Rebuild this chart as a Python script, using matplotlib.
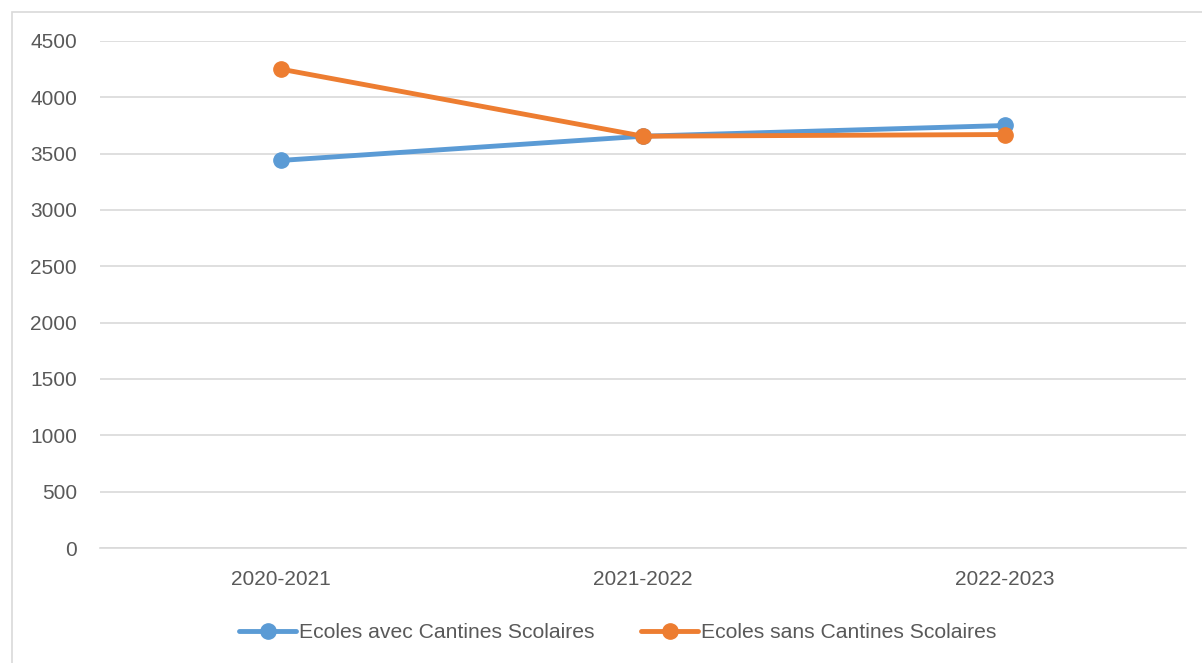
import matplotlib.pyplot as plt
from matplotlib.patches import Rectangle

years = ['2020-2021', '2021-2022', '2022-2023']
avec_cantines = [3440, 3655, 3750]
sans_cantines = [4250, 3655, 3670]

blue = '#5B9BD5'
orange = '#ED7D31'
grey_txt = '#595959'

plt.rcParams['font.family'] = ['Liberation Sans', 'DejaVu Sans']

fig = plt.figure(figsize=(12.02, 6.63), dpi=100)
ax = fig.add_axes([100 / 1202, (663 - 548) / 663, 1086 / 1202, 507 / 663])

x = range(len(years))
ax.plot(x, avec_cantines, color=blue, lw=3.5, marker='o', ms=11,
        label='Ecoles avec Cantines Scolaires', solid_capstyle='round')
ax.plot(x, sans_cantines, color=orange, lw=3.5, marker='o', ms=11,
        label='Ecoles sans Cantines Scolaires', solid_capstyle='round')

ax.set_xlim(-0.5, 2.5)
ax.set_ylim(0, 4500)
ax.set_yticks(range(0, 4501, 500))
ax.set_xticks(list(x))
ax.set_xticklabels(years)
ax.tick_params(length=0, labelsize=15, colors=grey_txt)
ax.tick_params(axis='y', pad=16.5)
ax.tick_params(axis='x', pad=16)
ax.grid(axis='y', color='#d9d9d9', lw=1.2)
ax.set_axisbelow(True)
for s in ['top', 'left', 'right']:
    ax.spines[s].set_visible(False)
ax.spines['bottom'].set_color('#d9d9d9')
ax.spines['bottom'].set_linewidth(1.2)

leg = fig.legend(loc='center', bbox_to_anchor=(618 / 1202, 1 - 633 / 663), ncol=2,
                 frameon=False, fontsize=15.2, handlelength=2.7, handletextpad=0.15,
                 columnspacing=2.2, labelcolor=grey_txt)

# chart area border (cut off at right and bottom)
fig.patches.append(Rectangle((12 / 1202, -0.1), 1.2, 1 - 12 / 663 + 0.1,
                             transform=fig.transFigure, fill=False,
                             edgecolor='#d9d9d9', lw=1.2))

fig.savefig('out.png', dpi=100)
